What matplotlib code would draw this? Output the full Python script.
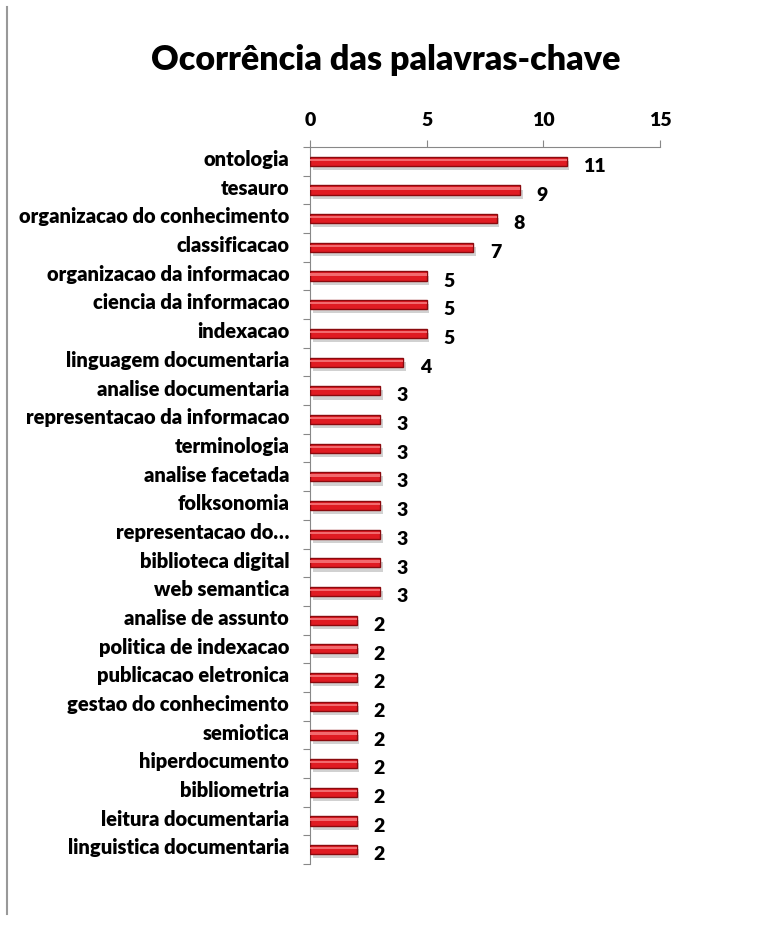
import matplotlib
matplotlib.use("Agg")
import matplotlib.pyplot as plt
import matplotlib.patheffects as pe
from matplotlib.lines import Line2D

plt.rcParams['font.family'] = ['Lato', 'DejaVu Sans']

# keywords, top to bottom
keywords = ["ontologia", "tesauro", "organizacao do conhecimento", "classificacao",
            "organizacao da informacao", "ciencia da informacao", "indexacao",
            "linguagem documentaria", "analise documentaria",
            "representacao da informacao", "terminologia", "analise facetada",
            "folksonomia", "representacao do\u2026", "biblioteca digital",
            "web semantica", "analise de assunto", "politica de indexacao",
            "publicacao eletronica", "gestao do conhecimento", "semiotica",
            "hiperdocumento", "bibliometria", "leitura documentaria",
            "linguistica documentaria"]
counts = [11, 9, 8, 7, 5, 5, 5, 4, 3, 3, 3, 3, 3, 3, 3, 3, 2, 2, 2, 2, 2, 2, 2, 2, 2]
xticks = [0, 5, 10, 15]

fig = plt.figure(figsize=(7.84, 9.29), dpi=100)
ax = fig.add_axes([310/784, 1-865/929, 350/784, (865-148)/929])

pos = list(range(len(keywords)))
bars = ax.barh(pos, counts, height=0.32, color="#E01B22", edgecolor="#8A0A0E",
               linewidth=1.0, zorder=3)
for b in bars:
    b.set_path_effects([pe.SimplePatchShadow(offset=(2, -3), shadow_rgbFace="#9a9a9a",
                                             alpha=0.45), pe.Normal()])
# highlight stripe on top of each bar
ax.barh([p - 0.05 for p in pos], counts, height=0.08, color="#F26A6E",
        linewidth=0, zorder=4)

for p, c in zip(pos, counts):
    ax.annotate(str(c), (c, p), xytext=(12, -3), textcoords="offset points",
                ha="left", va="center", fontsize=14, fontweight="heavy")

ax.set_xlim(0, 15)
ax.set_ylim(len(keywords) - 0.5, -0.5)
ax.set_xticks(xticks)
ax.xaxis.tick_top()
ax.tick_params(axis="x", length=5, color="#888888", labelsize=14, pad=9)
for t in ax.get_xticklabels():
    t.set_fontweight("heavy")

ax.set_yticks([p - 0.5 for p in pos] + [len(keywords) - 0.5])
ax.set_yticklabels([])
ax.tick_params(axis="y", length=5, color="#888888")
for p, k in zip(pos, keywords):
    ax.annotate(k, (0, p), xytext=(-15, 2), textcoords="offset points",
                ha="right", va="center", fontsize=14.5, fontweight="heavy")

for s in ["right", "bottom"]:
    ax.spines[s].set_visible(False)
ax.spines["left"].set_color("#888888")
ax.spines["top"].set_color("#888888")

fig.text(386/784, 1-60/929, "Ocorrência das palavras-chave", ha="center", va="center",
         fontsize=24.5, fontweight="heavy")

fig.add_artist(Line2D([7/784, 7/784], [1-8/929, 1-915/929], color="#999999", linewidth=1.5))

fig.savefig("out.png", dpi=100)
